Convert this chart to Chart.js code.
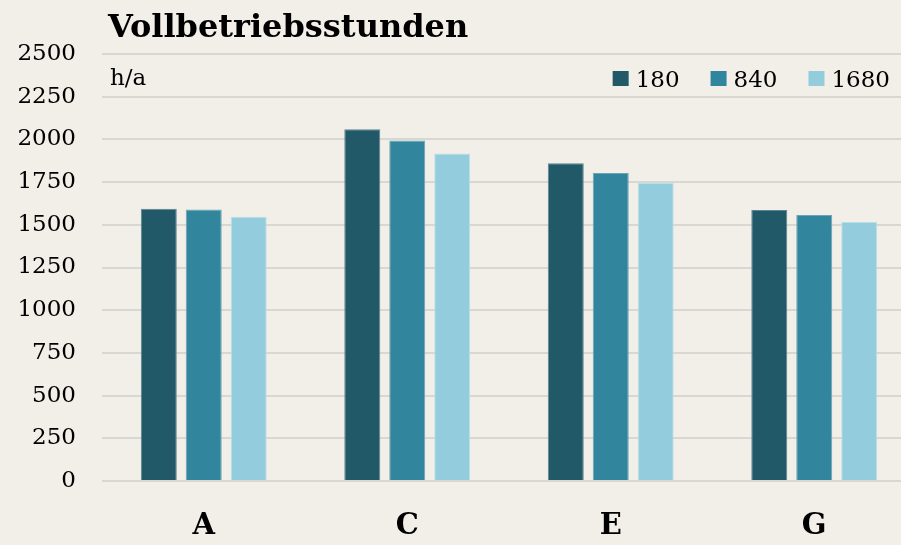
<!DOCTYPE html>
<html>
<head>
<meta charset="utf-8">
<script src="https://cdn.jsdelivr.net/npm/chart.js@4"></script>
<style>
  html, body { margin: 0; padding: 0; background: #f2efe9; overflow: hidden; }
  #wrap { width: 901px; height: 545px; overflow: hidden; }
  #chart { display: block; }
</style>
</head>
<body>
<!-- the original plot area runs a little past the right edge of the picture -->
<div id="wrap"><canvas id="chart" width="916" height="545"></canvas></div>
<script>
// data
const categories = ["A", "C", "E", "G"];
const seriesLabels = ["180", "840", "1680"];
const values180 = [1594, 2060, 1860, 1586];
const values840 = [1590, 1993, 1804, 1558];
const values1680 = [1547, 1917, 1744, 1517];
const titleText = "Vollbetriebsstunden";
const unitText = "h/a";

const seriesColors = ["#215968", "#31859c", "#93cddd"];
const edgeColors = ["#5b8590", "#6aa6b6", "#b9dfe9"];
const serif = "'DejaVu Serif', 'Liberation Serif', serif";
const visibleWidth = 901;

const datasets = [values180, values840, values1680].map((data, i) => ({
  label: seriesLabels[i],
  data: data,
  backgroundColor: seriesColors[i],
  borderColor: edgeColors[i],
  borderWidth: { top: 1, left: 1, right: 1, bottom: 0 },
  barPercentage: 0.8,
  categoryPercentage: 0.663,
}));

// title, unit and the legend are drawn inside the plot like the original
const overlayPlugin = {
  id: "overlay",
  afterDraw(chart) {
    const ctx = chart.ctx;
    const area = chart.chartArea;
    ctx.save();
    ctx.fillStyle = "#000";
    ctx.textBaseline = "alphabetic";

    ctx.font = "bold 32px " + serif;
    ctx.textAlign = "left";
    ctx.fillText(titleText, area.left + 6, 37);

    ctx.font = "23px " + serif;
    ctx.fillText(unitText, area.left + 8, 85);

    // legend, right aligned to the visible edge
    const box = 16, textGap = 7, itemGap = 31;
    const widths = chart.data.datasets.map((ds) => ctx.measureText(ds.label).width);
    let total = 0;
    widths.forEach((w, i) => { total += box + textGap + w + (i < widths.length - 1 ? itemGap : 0); });
    let x = visibleWidth - 11 - total;
    chart.data.datasets.forEach((ds, i) => {
      ctx.fillStyle = ds.backgroundColor;
      ctx.fillRect(x, 71, box, 15);
      ctx.fillStyle = "#000";
      ctx.fillText(ds.label, x + box + textGap, 87);
      x += box + textGap + widths[i] + itemGap;
    });
    ctx.restore();
  },
};

new Chart(document.getElementById("chart"), {
  type: "bar",
  data: { labels: categories, datasets: datasets },
  options: {
    responsive: false,
    animation: false,
    layout: { padding: { top: 54, right: 0, left: 0, bottom: 0 } },
    plugins: {
      legend: { display: false },
      title: { display: false },
      tooltip: { enabled: false },
    },
    scales: {
      x: {
        grid: { display: false, drawTicks: false },
        border: { display: false },
        ticks: {
          color: "#000",
          padding: 28,
          font: { family: serif, size: 29, weight: "bold" },
        },
        afterFit: (scale) => { scale.height = 64; },
      },
      y: {
        min: 0,
        max: 2500,
        grid: { color: "#d9d7d3", lineWidth: 2, drawTicks: false },
        border: { display: false },
        ticks: {
          stepSize: 250,
          color: "#000",
          padding: 26,
          font: { family: serif, size: 23 },
          callback: (value) => String(value),
        },
        afterFit: (scale) => { scale.width = 102; },
      },
    },
  },
  plugins: [overlayPlugin],
});
</script>
</body>
</html>
